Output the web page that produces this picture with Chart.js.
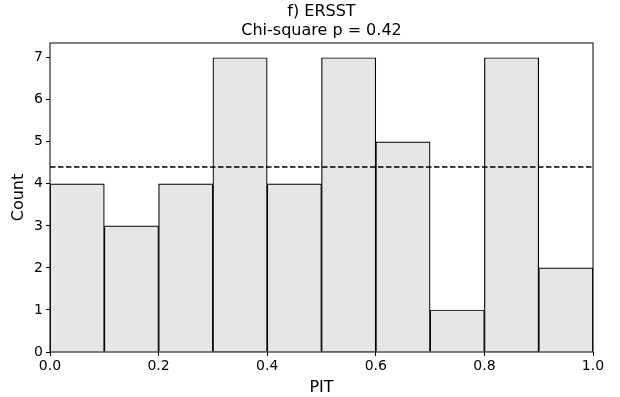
<!DOCTYPE html>
<html>
<head>
<meta charset="utf-8">
<script src="https://cdn.jsdelivr.net/npm/chart.js@4.4.1/dist/chart.umd.min.js"></script>
<style>
  html, body { margin: 0; padding: 0; background: #fff; }
  #wrap { width: 620px; height: 397px; }
</style>
</head>
<body>
<div id="wrap"><canvas id="pit-chart"></canvas></div>
<script>
// PIT histogram, 10 equal bins on [0, 1]
const binEdges = [0, 0.1, 0.2, 0.3, 0.4, 0.5, 0.6, 0.7, 0.8, 0.9, 1.0];
const binCounts = [4, 3, 4, 7, 4, 7, 5, 1, 7, 2];
const xTicks = [0, 0.2, 0.4, 0.6, 0.8, 1.0];
const yTicks = [0, 1, 2, 3, 4, 5, 6, 7];
const titleLines = ["f) ERSST", "Chi-square p = 0.42"];

const total = binCounts.reduce((a, b) => a + b, 0);
const expected = total / binCounts.length; // flat reference level

const barData = binCounts.map((c, i) => ({
  x: (binEdges[i] + binEdges[i + 1]) / 2,
  y: c,
}));

Chart.defaults.font.family = "'DejaVu Sans', sans-serif";
Chart.defaults.color = "#000";

// full box round the plot area, like a matplotlib axes frame
const frame = {
  id: "frame",
  afterDatasetsDraw(chart) {
    const { ctx, chartArea: a } = chart;
    ctx.save();
    ctx.strokeStyle = "#000";
    ctx.lineWidth = 1;
    ctx.strokeRect(a.left, a.top, a.right - a.left, a.bottom - a.top);
    ctx.restore();
  },
};

// title centred over the axes box rather than the whole canvas
const axesTitle = {
  id: "axesTitle",
  afterDraw(chart) {
    const { ctx, chartArea: a } = chart;
    const cx = (a.left + a.right) / 2;
    ctx.save();
    ctx.font = "16px 'DejaVu Sans', sans-serif";
    ctx.fillStyle = "#000";
    ctx.textAlign = "center";
    ctx.textBaseline = "middle";
    titleLines.forEach((line, i) => {
      ctx.fillText(line, cx, 12 + i * 18.5);
    });
    ctx.restore();
  },
};

const onlyListed = (list) => (scale) => {
  scale.ticks = list.map((v) => ({ value: v }));
};

new Chart(document.getElementById("pit-chart"), {
  type: "bar",
  data: {
    datasets: [
      {
        type: "line",
        label: "Expected",
        data: [
          { x: 0, y: expected },
          { x: 1, y: expected },
        ],
        borderColor: "#000",
        borderWidth: 1.3,
        borderDash: [5.5, 2.5],
        pointRadius: 0,
        fill: false,
        order: 0,
      },
      {
        label: "Count",
        data: barData,
        backgroundColor: "#e6e6e6",
        borderColor: "#000",
        borderWidth: 1.2,
        barPercentage: 1,
        categoryPercentage: 1,
        order: 1,
      },
    ],
  },
  options: {
    responsive: true,
    maintainAspectRatio: false,
    animation: false,
    layout: { padding: { left: 0, right: 27, top: 43, bottom: 0 } },
    scales: {
      x: {
        type: "linear",
        offset: false,
        min: 0,
        max: 1,
        afterBuildTicks: onlyListed(xTicks),
        ticks: {
          font: { size: 14 },
          padding: 2,
          maxRotation: 0,
          callback: (v) => v.toFixed(1),
        },
        grid: {
          display: true,
          offset: false,
          drawOnChartArea: false,
          tickLength: 4,
          color: "#000",
        },
        border: { display: false },
        title: {
          display: true,
          text: "PIT",
          font: { size: 16 },
          padding: { top: 1, bottom: 0 },
        },
      },
      y: {
        min: 0,
        max: 7.35,
        afterBuildTicks: onlyListed(yTicks),
        afterFit: (scale) => {
          scale.width = 50;
        },
        ticks: { font: { size: 14 }, padding: 3 },
        grid: {
          display: true,
          drawOnChartArea: false,
          tickLength: 4,
          color: "#000",
        },
        border: { display: false },
        title: {
          display: true,
          text: "Count",
          font: { size: 16 },
          padding: { top: 9, bottom: 4 },
        },
      },
    },
    plugins: {
      legend: { display: false },
      tooltip: { enabled: false },
      title: { display: false },
    },
  },
  plugins: [frame, axesTitle],
});
</script>
</body>
</html>
